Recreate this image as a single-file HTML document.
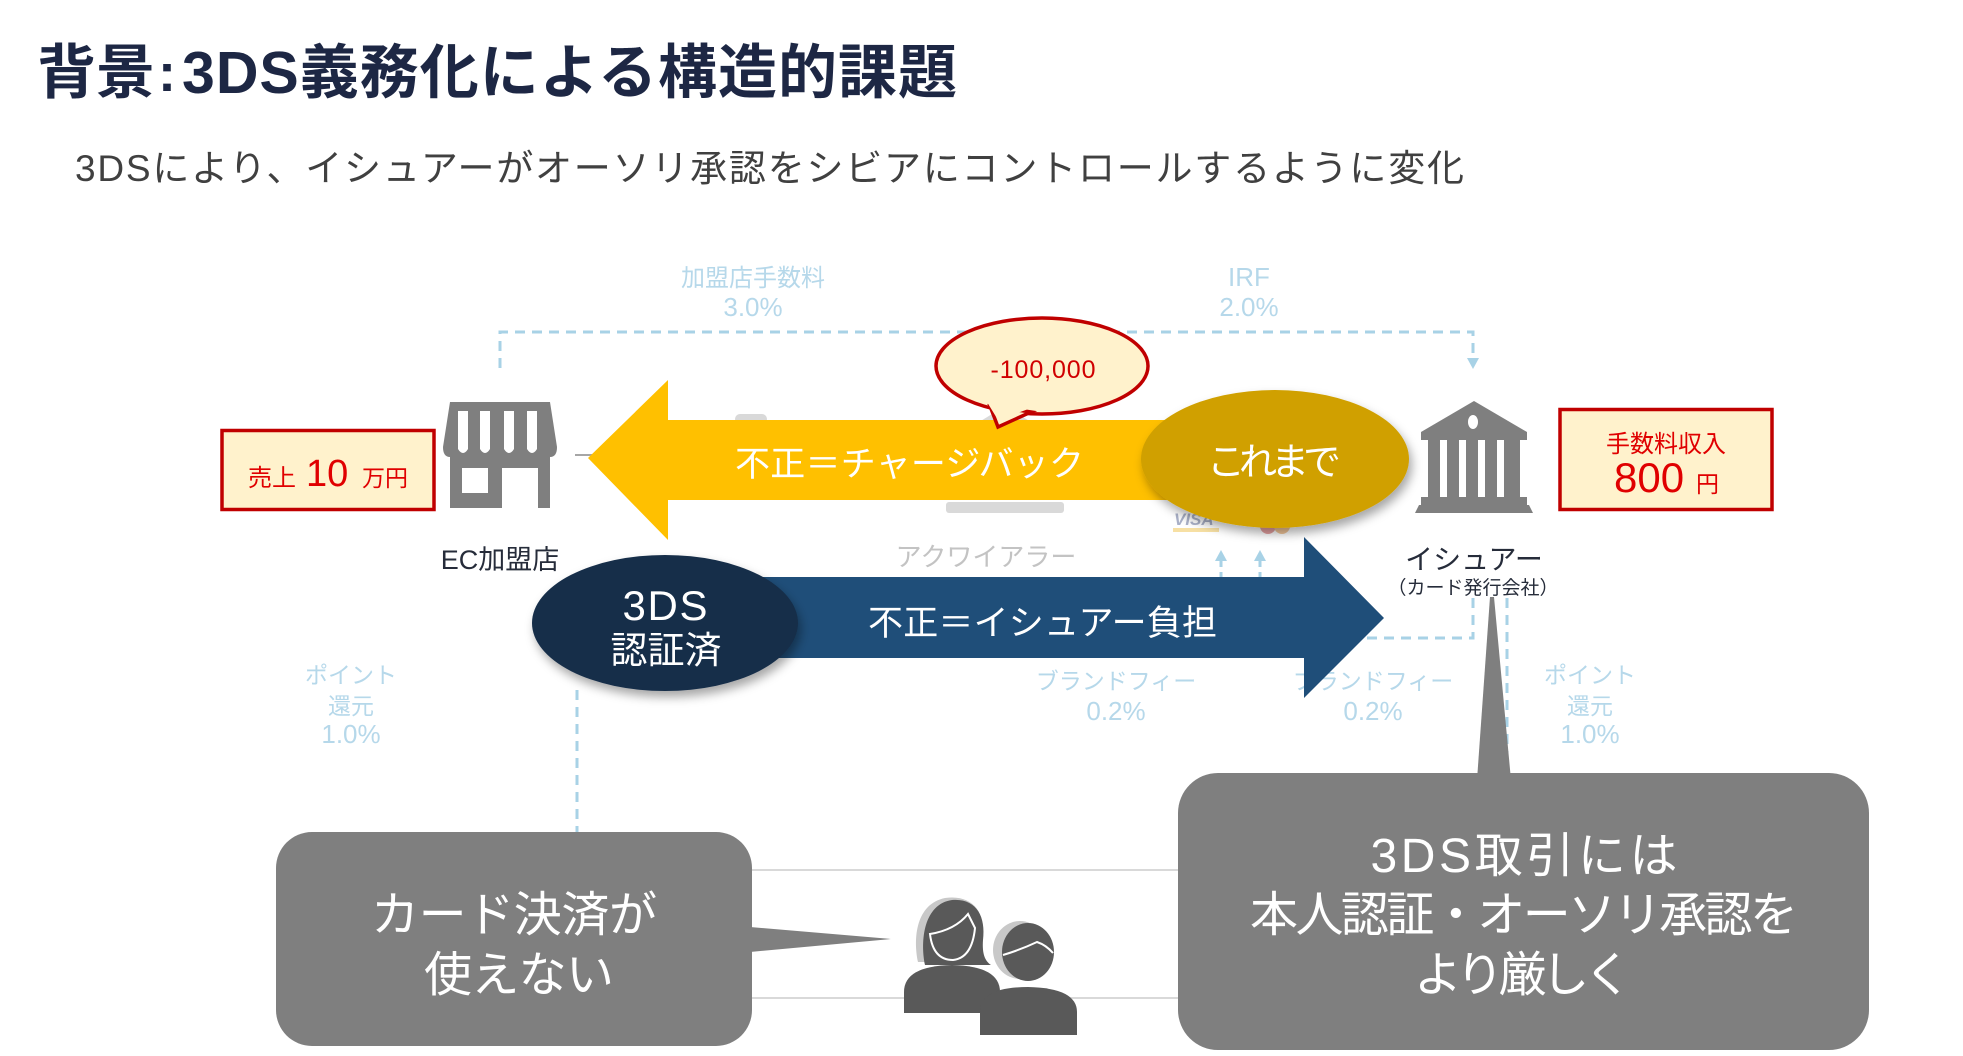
<!DOCTYPE html>
<html lang="ja">
<head>
<meta charset="utf-8">
<style>
  html, body { margin: 0; padding: 0; background: #ffffff; }
  body { width: 1963px; height: 1056px; overflow: hidden; }
  svg { display: block; }
  text { font-family: "Liberation Sans", "Noto Sans CJK JP", sans-serif; }
</style>
</head>
<body>
<svg width="1963" height="1056" viewBox="0 0 1963 1056" xmlns="http://www.w3.org/2000/svg">
  <defs>
    <filter id="sh" x="-20%" y="-20%" width="150%" height="160%">
      <feDropShadow dx="3" dy="6" stdDeviation="5" flood-color="#000" flood-opacity="0.35"/>
    </filter>
  </defs>

  <!-- Title -->
  <text x="37" y="93" font-size="59" font-weight="bold" fill="#1d2744">背景</text>
  <text x="158" y="91" font-size="54" font-weight="bold" fill="#1d2744">:</text>
  <text x="182" y="93" font-size="59" font-weight="bold" fill="#1d2744" textLength="775">3DS義務化による構造的課題</text>
  <!-- Subtitle -->
  <text x="75" y="181" font-size="37" fill="#404040" textLength="1389">3DSにより、イシュアーがオーソリ承認をシビアにコントロールするように変化</text>

  <!-- Top dashed connector -->
  <path d="M500,368 V332 H1473 V360" stroke="#a8d2e6" stroke-width="3" stroke-dasharray="10,7" fill="none"/>
  <polygon points="1467,358 1479,358 1473,369" fill="#a8d2e6"/>

  <!-- Fee labels top -->
  <g fill="#b6d8ea" font-size="24" text-anchor="middle">
    <text x="753" y="286">加盟店手数料</text>
    <text x="753" y="316" font-size="26">3.0%</text>
    <text x="1249" y="286" font-size="26">IRF</text>
    <text x="1249" y="316" font-size="26">2.0%</text>
  </g>

  <!-- Left dashed vertical -->
  <path d="M577,690 V832" stroke="#a8d2e6" stroke-width="3" stroke-dasharray="10,7" fill="none"/>
  <!-- Right dashed lines -->
  <path d="M1473,598 V638 H1360" stroke="#a8d2e6" stroke-width="3" stroke-dasharray="10,7" fill="none"/>
  <path d="M1507,598 V773" stroke="#a8d2e6" stroke-width="3" stroke-dasharray="10,7" fill="none"/>
  <!-- small up arrows -->
  <path d="M1221,580 V558 M1260,580 V558" stroke="#a8d2e6" stroke-width="3" stroke-dasharray="8,5" fill="none"/>
  <polygon points="1215,561 1227,561 1221,550" fill="#a8d2e6"/>
  <polygon points="1254,561 1266,561 1260,550" fill="#a8d2e6"/>

  <!-- brand fee / point labels -->
  <g fill="#b6d8ea" font-size="23" text-anchor="middle">
    <text x="351" y="683">ポイント</text>
    <text x="351" y="714">還元</text>
    <text x="351" y="743" font-size="26">1.0%</text>
    <text x="1116" y="689">ブランドフィー</text>
    <text x="1116" y="720" font-size="26">0.2%</text>
    <text x="1373" y="689">ブランドフィー</text>
    <text x="1373" y="720" font-size="26">0.2%</text>
    <text x="1590" y="683">ポイント</text>
    <text x="1590" y="714">還元</text>
    <text x="1590" y="743" font-size="26">1.0%</text>
  </g>

  <!-- bottom gray lines -->
  <line x1="752" y1="870" x2="1180" y2="870" stroke="#d9d9d9" stroke-width="2"/>
  <line x1="752" y1="998" x2="1180" y2="998" stroke="#d9d9d9" stroke-width="2"/>

  <!-- faded acquirer elements -->
  <rect x="735" y="414" width="32" height="10" rx="5" fill="#d9d9d9"/>
  <polygon points="950,440 1005,406 1060,440" fill="#d9d9d9"/>
  <rect x="946" y="502" width="118" height="11" rx="3" fill="#d9d9d9"/>
  <text x="1174" y="525" font-size="17" font-weight="bold" font-style="italic" fill="#aab1c8">VISA</text>
  <rect x="1173" y="528" width="46" height="4" fill="#f7e0a4"/>
  <circle cx="1268" cy="526" r="8" fill="#e6a1a1"/>
  <circle cx="1282" cy="526" r="8" fill="#f3c79a"/>
  <text x="986" y="566" font-size="26" fill="#c3c3c3" text-anchor="middle">アクワイアラー</text>

  <!-- gray connector stub near store -->
  <line x1="575" y1="455" x2="592" y2="455" stroke="#a6a6a6" stroke-width="2"/>

  <!-- Yellow arrow -->
  <polygon points="588,458 668,380 668,420 1200,420 1200,500 668,500 668,540" fill="#ffc000"/>
  <text x="735" y="476" font-size="35" fill="#ffffff" textLength="349">不正＝チャージバック</text>

  <!-- Speech bubble -->
  <ellipse cx="1042" cy="366" rx="106" ry="48" fill="#fff2cc" stroke="#c00000" stroke-width="3.5"/>
  <polygon points="990,406 998,427 1031,412" fill="#fff2cc" stroke="#c00000" stroke-width="3.5" stroke-linejoin="miter"/>
  <polygon points="987,402 998,420 1034,407 1030,398" fill="#fff2cc"/>
  <text x="1043" y="378" font-size="25" fill="#d00000" text-anchor="middle" textLength="105">-100,000</text>

  <!-- これまで ellipse -->
  <ellipse cx="1275" cy="459" rx="134" ry="69" fill="#d0a000" filter="url(#sh)"/>
  <text x="1207" y="475" font-size="38" fill="#ffffff" textLength="134">これまで</text>

  <!-- Blue arrow -->
  <polygon points="720,577 1304,577 1304,537 1384,618 1304,698 1304,658 720,658" fill="#1f4e79"/>
  <text x="868" y="635" font-size="35" fill="#ffffff" textLength="349">不正＝イシュアー負担</text>

  <!-- 3DS ellipse -->
  <ellipse cx="665" cy="623" rx="133" ry="68" fill="#152d48" filter="url(#sh)"/>
  <text x="665" y="620" font-size="42" fill="#ffffff" text-anchor="middle" textLength="85">3DS</text>
  <text x="666" y="663" font-size="37" fill="#ffffff" text-anchor="middle">認証済</text>

  <!-- Store icon -->
  <g fill="#7f7f7f">
    <path d="M450,402 H550 L557,447 Q557,457 550,457 H450 Q443,457 443,447 Z"/>
    <rect x="450" y="456" width="100" height="52"/>
  </g>
  <g fill="#ffffff">
    <path d="M458,411 H468 V449 Q463,457 458,449 Z"/>
    <path d="M480,411 H490 V449 Q485,457 480,449 Z"/>
    <path d="M504,411 H514 V449 Q509,457 504,449 Z"/>
    <path d="M527,411 H537 V449 Q532,457 527,449 Z"/>
    <rect x="462" y="468" width="26" height="25"/>
    <rect x="502" y="468" width="36" height="40"/>
  </g>
  <text x="500" y="569" font-size="27" fill="#262c3a" text-anchor="middle">EC加盟店</text>

  <!-- Left red box -->
  <rect x="222" y="430.5" width="212" height="79" fill="#fff2cc" stroke="#c00000" stroke-width="3.5"/>
  <text x="248" y="486" font-size="24" fill="#e00000">売上</text>
  <text x="306" y="486" font-size="38" fill="#e00000">10</text>
  <text x="362" y="486" font-size="23" fill="#e00000">万円</text>

  <!-- Bank icon (issuer) -->
  <g fill="#7f7f7f">
    <polygon points="1421,432 1474,401 1527,432 1527,440 1421,440"/>
    <rect x="1428" y="440" width="92" height="57"/>
    <rect x="1421" y="497" width="106" height="8"/>
    <polygon points="1419,505 1529,505 1533,513 1415,513"/>
  </g>
  <ellipse cx="1473" cy="422" rx="5" ry="7" fill="#ffffff"/>
  <g fill="#ffffff">
    <rect x="1440" y="440" width="7" height="57"/>
    <rect x="1459" y="440" width="7" height="57"/>
    <rect x="1478" y="440" width="7" height="57"/>
    <rect x="1497" y="440" width="7" height="57"/>
  </g>
  <text x="1474" y="569" font-size="28" fill="#262c3a" text-anchor="middle">イシュアー</text>
  <text x="1473" y="594" font-size="19" fill="#262c3a" text-anchor="middle">（カード発行会社）</text>

  <!-- Right red box -->
  <rect x="1560" y="409.5" width="212" height="100" fill="#fff2cc" stroke="#c00000" stroke-width="3.5"/>
  <text x="1666" y="452" font-size="24" fill="#e00000" text-anchor="middle">手数料収入</text>
  <text x="1614" y="492" font-size="42" fill="#e00000">800</text>
  <text x="1696" y="492" font-size="23" fill="#e00000">円</text>

  <!-- Left gray callout -->
  <rect x="276" y="832" width="476" height="214" rx="36" fill="#7f7f7f"/>
  <polygon points="750,927 891,939 750,952" fill="#7f7f7f"/>
  <text x="514" y="931" font-size="48" fill="#ffffff" text-anchor="middle" textLength="286">カード決済が</text>
  <text x="519" y="991" font-size="48" fill="#ffffff" text-anchor="middle" textLength="190">使えない</text>

  <!-- Right gray callout -->
  <polygon points="1490,597 1494,597 1511,780 1477,780" fill="#7f7f7f"/>
  <rect x="1178" y="773" width="691" height="277" rx="40" fill="#7f7f7f"/>
  <text x="1524" y="872" font-size="48" fill="#ffffff" text-anchor="middle" textLength="307">3DS取引には</text>
  <text x="1524" y="931" font-size="48" fill="#ffffff" text-anchor="middle" textLength="548">本人認証・オーソリ承認を</text>
  <text x="1523" y="991" font-size="48" fill="#ffffff" text-anchor="middle" textLength="218">より厳しく</text>

  <!-- People icon -->
  <path d="M918,962 C913,938 916,904 945,898 C972,894 986,912 982,936 L980,962 Z" fill="#c8c8c8"/>
  <path d="M925,965 C920,940 924,904 952,900 C976,898 986,916 983,940 C982,954 985,961 991,965 Z" fill="#595959"/>
  <path d="M930,934 Q933,960 953,960 Q972,958 975,928 L968,914 Q955,930 930,934 Z" fill="#595959" stroke="#ffffff" stroke-width="2"/>
  <path d="M904,1013 V992 Q904,966 952,965 Q1000,966 1000,992 V1013 Z" fill="#595959"/>
  <ellipse cx="1020" cy="950" rx="27" ry="29" fill="#c8c8c8"/>
  <ellipse cx="1028" cy="952" rx="26" ry="29" fill="#595959"/>
  <path d="M1003,955 Q1020,950 1037,942 Q1046,945 1053,953" fill="none" stroke="#ffffff" stroke-width="2"/>
  <path d="M980,1035 V1012 Q980,987 1028,987 Q1077,988 1077,1012 V1035 Z" fill="#595959"/>
</svg>
</body>
</html>
